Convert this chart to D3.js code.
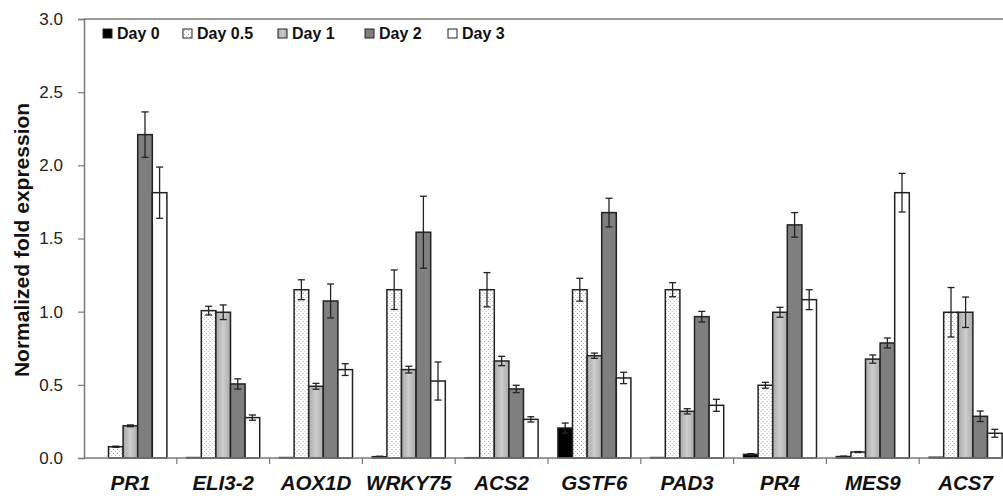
<!DOCTYPE html>
<html>
<head>
<meta charset="utf-8">
<style>
  body { margin: 0; background: #fff; }
  svg { display: block; }
</style>
</head>
<body>
<svg id="chart"></svg>
<script src="https://cdn.jsdelivr.net/npm/d3@7"></script>
<script>
var genes = ["PR1", "ELI3-2", "AOX1D", "WRKY75", "ACS2", "GSTF6", "PAD3", "PR4", "MES9", "ACS7"];
var days = ["Day 0", "Day 0.5", "Day 1", "Day 2", "Day 3"];

var day0 = [0.0, 0.003, 0.003, 0.009, 0.002, 0.205, 0.003, 0.025, 0.01, 0.005];
var day05 = [0.077, 1.007, 1.15, 1.15, 1.15, 1.15, 1.15, 0.497, 0.041, 0.996];
var day1 = [0.22, 0.996, 0.49, 0.604, 0.663, 0.699, 0.319, 0.996, 0.676, 0.996];
var day2 = [2.21, 0.506, 1.073, 1.543, 0.472, 1.677, 0.966, 1.593, 0.786, 0.285];
var day3 = [1.813, 0.276, 0.604, 0.526, 0.264, 0.547, 0.36, 1.082, 1.813, 0.169];

var err0 = [0, 0, 0, 0.003, 0, 0.034, 0, 0.005, 0.003, 0];
var err05 = [0.004, 0.03, 0.068, 0.135, 0.117, 0.078, 0.048, 0.02, 0.003, 0.169];
var err1 = [0.006, 0.05, 0.02, 0.023, 0.032, 0.018, 0.018, 0.034, 0.028, 0.104];
var err2 = [0.155, 0.035, 0.116, 0.246, 0.025, 0.098, 0.036, 0.084, 0.034, 0.036];
var err3 = [0.175, 0.018, 0.04, 0.13, 0.018, 0.039, 0.041, 0.068, 0.132, 0.027];

var yTicks = [0, 0.5, 1.0, 1.5, 2.0, 2.5, 3.0];

var values = [day0, day05, day1, day2, day3];
var errors = [err0, err05, err1, err2, err3];
var fills = ["#000", "url(#dots)", "url(#grey)", "#7f7f7f", "#fff"];

var width = 1003, height = 500;
var plotLeft = 84, plotTop = 19, plotBottom = 458;
var catW = 92.8;
var font = "Liberation Sans, Arial, sans-serif";

var svg = d3.select("#chart").attr("width", width).attr("height", height);

// patterns for the textured series
var defs = svg.append("defs");
var dots = defs.append("pattern")
  .attr("id", "dots")
  .attr("patternUnits", "userSpaceOnUse")
  .attr("width", 4).attr("height", 4);
dots.append("rect").attr("width", 4).attr("height", 4).attr("fill", "#fff");
dots.append("rect").attr("x", 1).attr("y", 1).attr("width", 1).attr("height", 1).attr("fill", "#a0a0a0");
dots.append("rect").attr("x", 3).attr("y", 3).attr("width", 1).attr("height", 1).attr("fill", "#c4c4c4");

var grad = defs.append("linearGradient").attr("id", "grey")
  .attr("x1", "0%").attr("x2", "100%").attr("y1", "0%").attr("y2", "0%");
grad.append("stop").attr("offset", "0%").attr("stop-color", "#a9a9a9");
grad.append("stop").attr("offset", "50%").attr("stop-color", "#cdcdcd");
grad.append("stop").attr("offset", "100%").attr("stop-color", "#a9a9a9");

var x0 = d3.scaleBand().domain(genes).range([plotLeft, plotLeft + catW * genes.length]).padding(0);
var x1 = d3.scaleBand().domain(days).range([9.9, catW - 9.9]).padding(0);
var y = d3.scaleLinear().domain([0, 3]).range([plotBottom, plotTop]);

// plot top border
svg.append("line")
  .attr("x1", plotLeft).attr("x2", width + 20)
  .attr("y1", plotTop).attr("y2", plotTop)
  .attr("stroke", "#7a7a7a").attr("stroke-width", 1.5);

// y axis
var yAxis = svg.append("g")
  .attr("transform", "translate(" + plotLeft + ",0)")
  .call(d3.axisLeft(y).tickValues(yTicks).tickFormat(d3.format(".1f")).tickSize(6).tickPadding(15));
yAxis.select(".domain").attr("stroke", "#7a7a7a").attr("stroke-width", 1.5);
yAxis.selectAll(".tick line").attr("stroke", "#7a7a7a").attr("stroke-width", 1.2);
yAxis.selectAll("text")
  .style("font-family", font)
  .style("font-size", "17px").attr("fill", "#222");

// bars
var groups = svg.append("g").selectAll("g")
  .data(genes)
  .enter().append("g")
  .attr("transform", d => "translate(" + x0(d) + ",0)");

var rows = (g, gi) => days.map((d, di) => ({ day: d, i: di, v: values[di][gi], e: errors[di][gi] }));

groups.selectAll("rect")
  .data(rows)
  .enter().append("rect")
  .attr("x", d => x1(d.day))
  .attr("y", d => y(d.v))
  .attr("width", x1.bandwidth())
  .attr("height", d => plotBottom - y(d.v))
  .attr("fill", d => fills[d.i])
  .attr("stroke", "#222")
  .attr("stroke-width", 1.5);

// error bars
var eb = groups.selectAll(".err")
  .data((g, gi) => rows(g, gi).filter(d => d.e > 0))
  .enter().append("g").attr("class", "err")
  .attr("stroke", "#222").attr("stroke-width", 1.3);
var cx = d => x1(d.day) + x1.bandwidth() / 2;
eb.append("line")
  .attr("x1", cx).attr("x2", cx)
  .attr("y1", d => y(d.v + d.e)).attr("y2", d => y(d.v - d.e));
eb.append("line")
  .attr("x1", d => cx(d) - 3.5).attr("x2", d => cx(d) + 3.5)
  .attr("y1", d => y(d.v + d.e)).attr("y2", d => y(d.v + d.e));
eb.append("line")
  .attr("x1", d => cx(d) - 3.5).attr("x2", d => cx(d) + 3.5)
  .attr("y1", d => y(d.v - d.e)).attr("y2", d => y(d.v - d.e));

// x axis
svg.append("line")
  .attr("x1", plotLeft).attr("x2", width + 20)
  .attr("y1", plotBottom).attr("y2", plotBottom)
  .attr("stroke", "#7a7a7a").attr("stroke-width", 1.5);
svg.append("g").selectAll("line")
  .data(genes)
  .enter().append("line")
  .attr("x1", d => x0(d) + catW).attr("x2", d => x0(d) + catW)
  .attr("y1", plotBottom).attr("y2", plotBottom + 6)
  .attr("stroke", "#7a7a7a").attr("stroke-width", 1.2);

svg.append("g").selectAll("text")
  .data(genes)
  .enter().append("text")
  .attr("x", d => x0(d) + catW / 2)
  .attr("y", 490)
  .attr("text-anchor", "middle")
  .style("font-family", font)
  .style("font-size", "20.5px")
  .style("font-weight", "bold")
  .style("font-style", "italic")
  .attr("fill", "#111")
  .text(d => d);

// y title
svg.append("text")
  .attr("transform", "translate(29,240) rotate(-90)")
  .attr("text-anchor", "middle")
  .style("font-family", font)
  .style("font-size", "21px")
  .style("font-weight", "bold")
  .attr("fill", "#111")
  .text("Normalized fold expression");

// legend
var legendX = [103, 183, 278, 365, 448];
var legend = svg.append("g").selectAll("g")
  .data(days)
  .enter().append("g")
  .attr("transform", (d, i) => "translate(" + legendX[i] + ",29)");
legend.append("rect")
  .attr("width", 9).attr("height", 9)
  .attr("fill", (d, i) => fills[i])
  .attr("stroke", "#222").attr("stroke-width", 1);
legend.append("text")
  .attr("x", 14).attr("y", 10)
  .style("font-family", font)
  .style("font-size", "16px")
  .style("font-weight", "bold")
  .attr("fill", "#111")
  .text(d => d);
</script>
</body>
</html>
